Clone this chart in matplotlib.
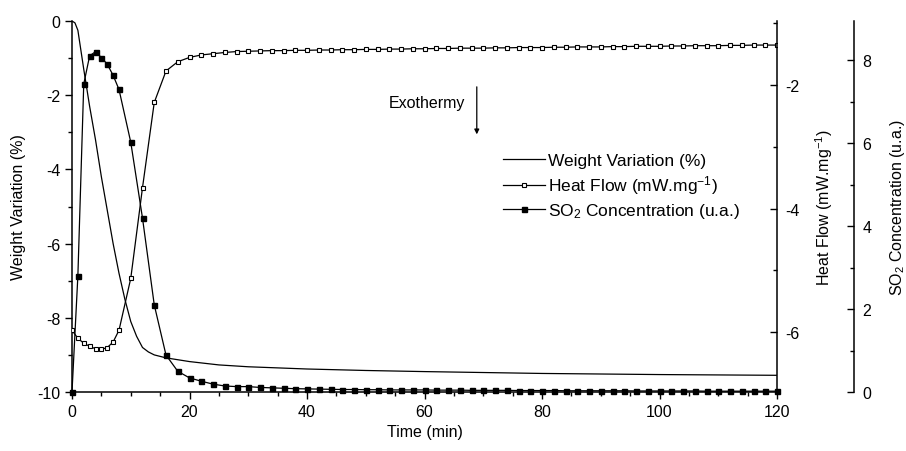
import matplotlib
matplotlib.use("Agg")
import matplotlib.pyplot as plt
from matplotlib.ticker import MultipleLocator

plt.rcParams["font.family"] = ["Liberation Sans", "DejaVu Sans"]
plt.rcParams["mathtext.fontset"] = "custom"
plt.rcParams["mathtext.rm"] = "Liberation Sans"
plt.rcParams["mathtext.it"] = "Liberation Sans"
plt.rcParams["axes.unicode_minus"] = False
FS = 11.5
LEG_FS = 12.5

# weight variation (%), continuous line
weight_time = [0, 0.5, 1, 2, 3, 4, 5, 6, 7, 8, 9, 10, 11, 12, 13, 14, 16, 20,
               25, 30, 40, 50, 60, 80, 100, 120]
weight = [0, -0.05, -0.25, -1.3, -2.3, -3.2, -4.2, -5.1, -6.0, -6.8, -7.5,
          -8.1, -8.5, -8.8, -8.92, -9.0, -9.08, -9.18, -9.27, -9.32, -9.38,
          -9.42, -9.45, -9.5, -9.53, -9.55]

# sampled time for heat flow and SO2 (min)
time = [0, 1, 2, 3, 4, 5, 6, 7, 8, 10, 12, 14, 16, 18, 20, 22, 24, 26, 28, 30,
        32, 34, 36, 38, 40, 42, 44, 46, 48, 50, 52, 54, 56, 58, 60, 62, 64, 66,
        68, 70, 72, 74, 76, 78, 80, 82, 84, 86, 88, 90, 92, 94, 96, 98, 100,
        102, 104, 106, 108, 110, 112, 114, 116, 118, 120]

heat_flow = [-5.97, -6.10, -6.18, -6.23, -6.27, -6.28, -6.25, -6.16, -5.97,
             -5.13, -3.66, -2.28, -1.77, -1.62, -1.55, -1.51, -1.49, -1.47,
             -1.455, -1.45, -1.445, -1.44, -1.44, -1.435, -1.435, -1.43,
             -1.43, -1.425, -1.425, -1.42, -1.42, -1.415, -1.415, -1.41,
             -1.41, -1.405, -1.405, -1.40, -1.40, -1.40, -1.395, -1.395,
             -1.39, -1.39, -1.39, -1.385, -1.385, -1.38, -1.38, -1.38, -1.375,
             -1.375, -1.37, -1.37, -1.37, -1.365, -1.365, -1.36, -1.36, -1.36,
             -1.355, -1.355, -1.35, -1.35, -1.35]

so2 = [0.0, 2.80, 7.42, 8.10, 8.20, 8.06, 7.90, 7.63, 7.29, 6.02, 4.19, 2.10,
       0.89, 0.50, 0.34, 0.26, 0.19, 0.145, 0.13, 0.13, 0.11, 0.10, 0.09,
       0.08, 0.075, 0.07, 0.065, 0.06, 0.06, 0.055, 0.055, 0.05, 0.05, 0.05,
       0.05, 0.045, 0.045, 0.045, 0.04, 0.04, 0.04, 0.04, 0.035, 0.035,
       0.035, 0.035, 0.03, 0.03, 0.03, 0.03, 0.03, 0.03, 0.025, 0.025, 0.025,
       0.025, 0.025, 0.025, 0.02, 0.02, 0.02, 0.02, 0.02, 0.02, 0.02]

fig = plt.figure(figsize=(9.06, 4.52), dpi=100)
ax1 = fig.add_axes([72 / 906, 1 - 393 / 452, 705 / 906, 371 / 452])
ax2 = ax1.twinx()
ax3 = ax1.twinx()
ax3.spines["right"].set_position(("axes", 1 + 77 / 705))

lw = 0.9
l1, = ax1.plot(weight_time, weight, color="black", lw=lw,
               label="Weight Variation (%)")
l2, = ax2.plot(time, heat_flow, color="black", lw=lw, marker="s", ms=3.2,
               mfc="white", mec="black", mew=0.8,
               label="Heat Flow (mW.mg$^{-1}$)")
l3, = ax3.plot(time, so2, color="black", lw=lw, marker="s", ms=3.6,
               mfc="black", mec="black", clip_on=False,
               label="SO$_2$ Concentration (u.a.)")

ax1.set_xlim(0, 120)
ax1.set_ylim(-10, 0)
ax2.set_ylim(-6.97, -0.96)
ax3.set_ylim(0, 8.94)

for ax in (ax1, ax2, ax3):
    ax.spines["top"].set_visible(False)
    for s in ax.spines.values():
        s.set_linewidth(1.1)

ax1.tick_params(which="major", direction="out", length=5, width=1,
                labelsize=FS)
ax1.tick_params(which="minor", direction="out", length=3, width=1)
for ax in (ax2, ax3):
    ax.tick_params(which="major", direction="in", length=5, width=1,
                   labelsize=FS, pad=6)
    ax.tick_params(which="minor", direction="in", length=3, width=1)

ax1.spines["right"].set_visible(False)
ax3.spines["left"].set_visible(False)
ax2.spines["left"].set_visible(False)
ax2.spines["bottom"].set_visible(False)
ax3.spines["bottom"].set_visible(False)

ax1.xaxis.set_major_locator(MultipleLocator(20))
ax1.xaxis.set_minor_locator(MultipleLocator(5))
ax1.yaxis.set_major_locator(MultipleLocator(2))
ax1.yaxis.set_minor_locator(MultipleLocator(1))
ax2.yaxis.set_major_locator(MultipleLocator(2))
ax2.yaxis.set_minor_locator(MultipleLocator(1))
ax3.yaxis.set_major_locator(MultipleLocator(2))
ax3.yaxis.set_minor_locator(MultipleLocator(1))

ax1.set_xlabel("Time (min)", fontsize=FS, labelpad=4)
ax1.set_ylabel("Weight Variation (%)", fontsize=FS, labelpad=8)
ax2.set_ylabel("Heat Flow (mW.mg$^{-1}$)", fontsize=FS, labelpad=10)
ax3.set_ylabel("SO$_2$ Concentration (u.a.)", fontsize=FS, labelpad=12)

# exothermy arrow
ax1.annotate("", xy=(68.9, -3.13), xytext=(68.9, -1.70),
             arrowprops=dict(arrowstyle="-|>", color="black", lw=0.9,
                             mutation_scale=7))
ax1.text(67.0, -2.2, "Exothermy", ha="right", va="center", fontsize=FS)

fig.legend(handles=[l1, l2, l3], loc="upper left",
           bbox_to_anchor=(503 / 906, 1 - 154 / 452), frameon=False,
           fontsize=LEG_FS, handlelength=2.4, handletextpad=0.2,
           labelspacing=0.3, borderpad=0, borderaxespad=0)

fig.savefig("out.png", dpi=100)
